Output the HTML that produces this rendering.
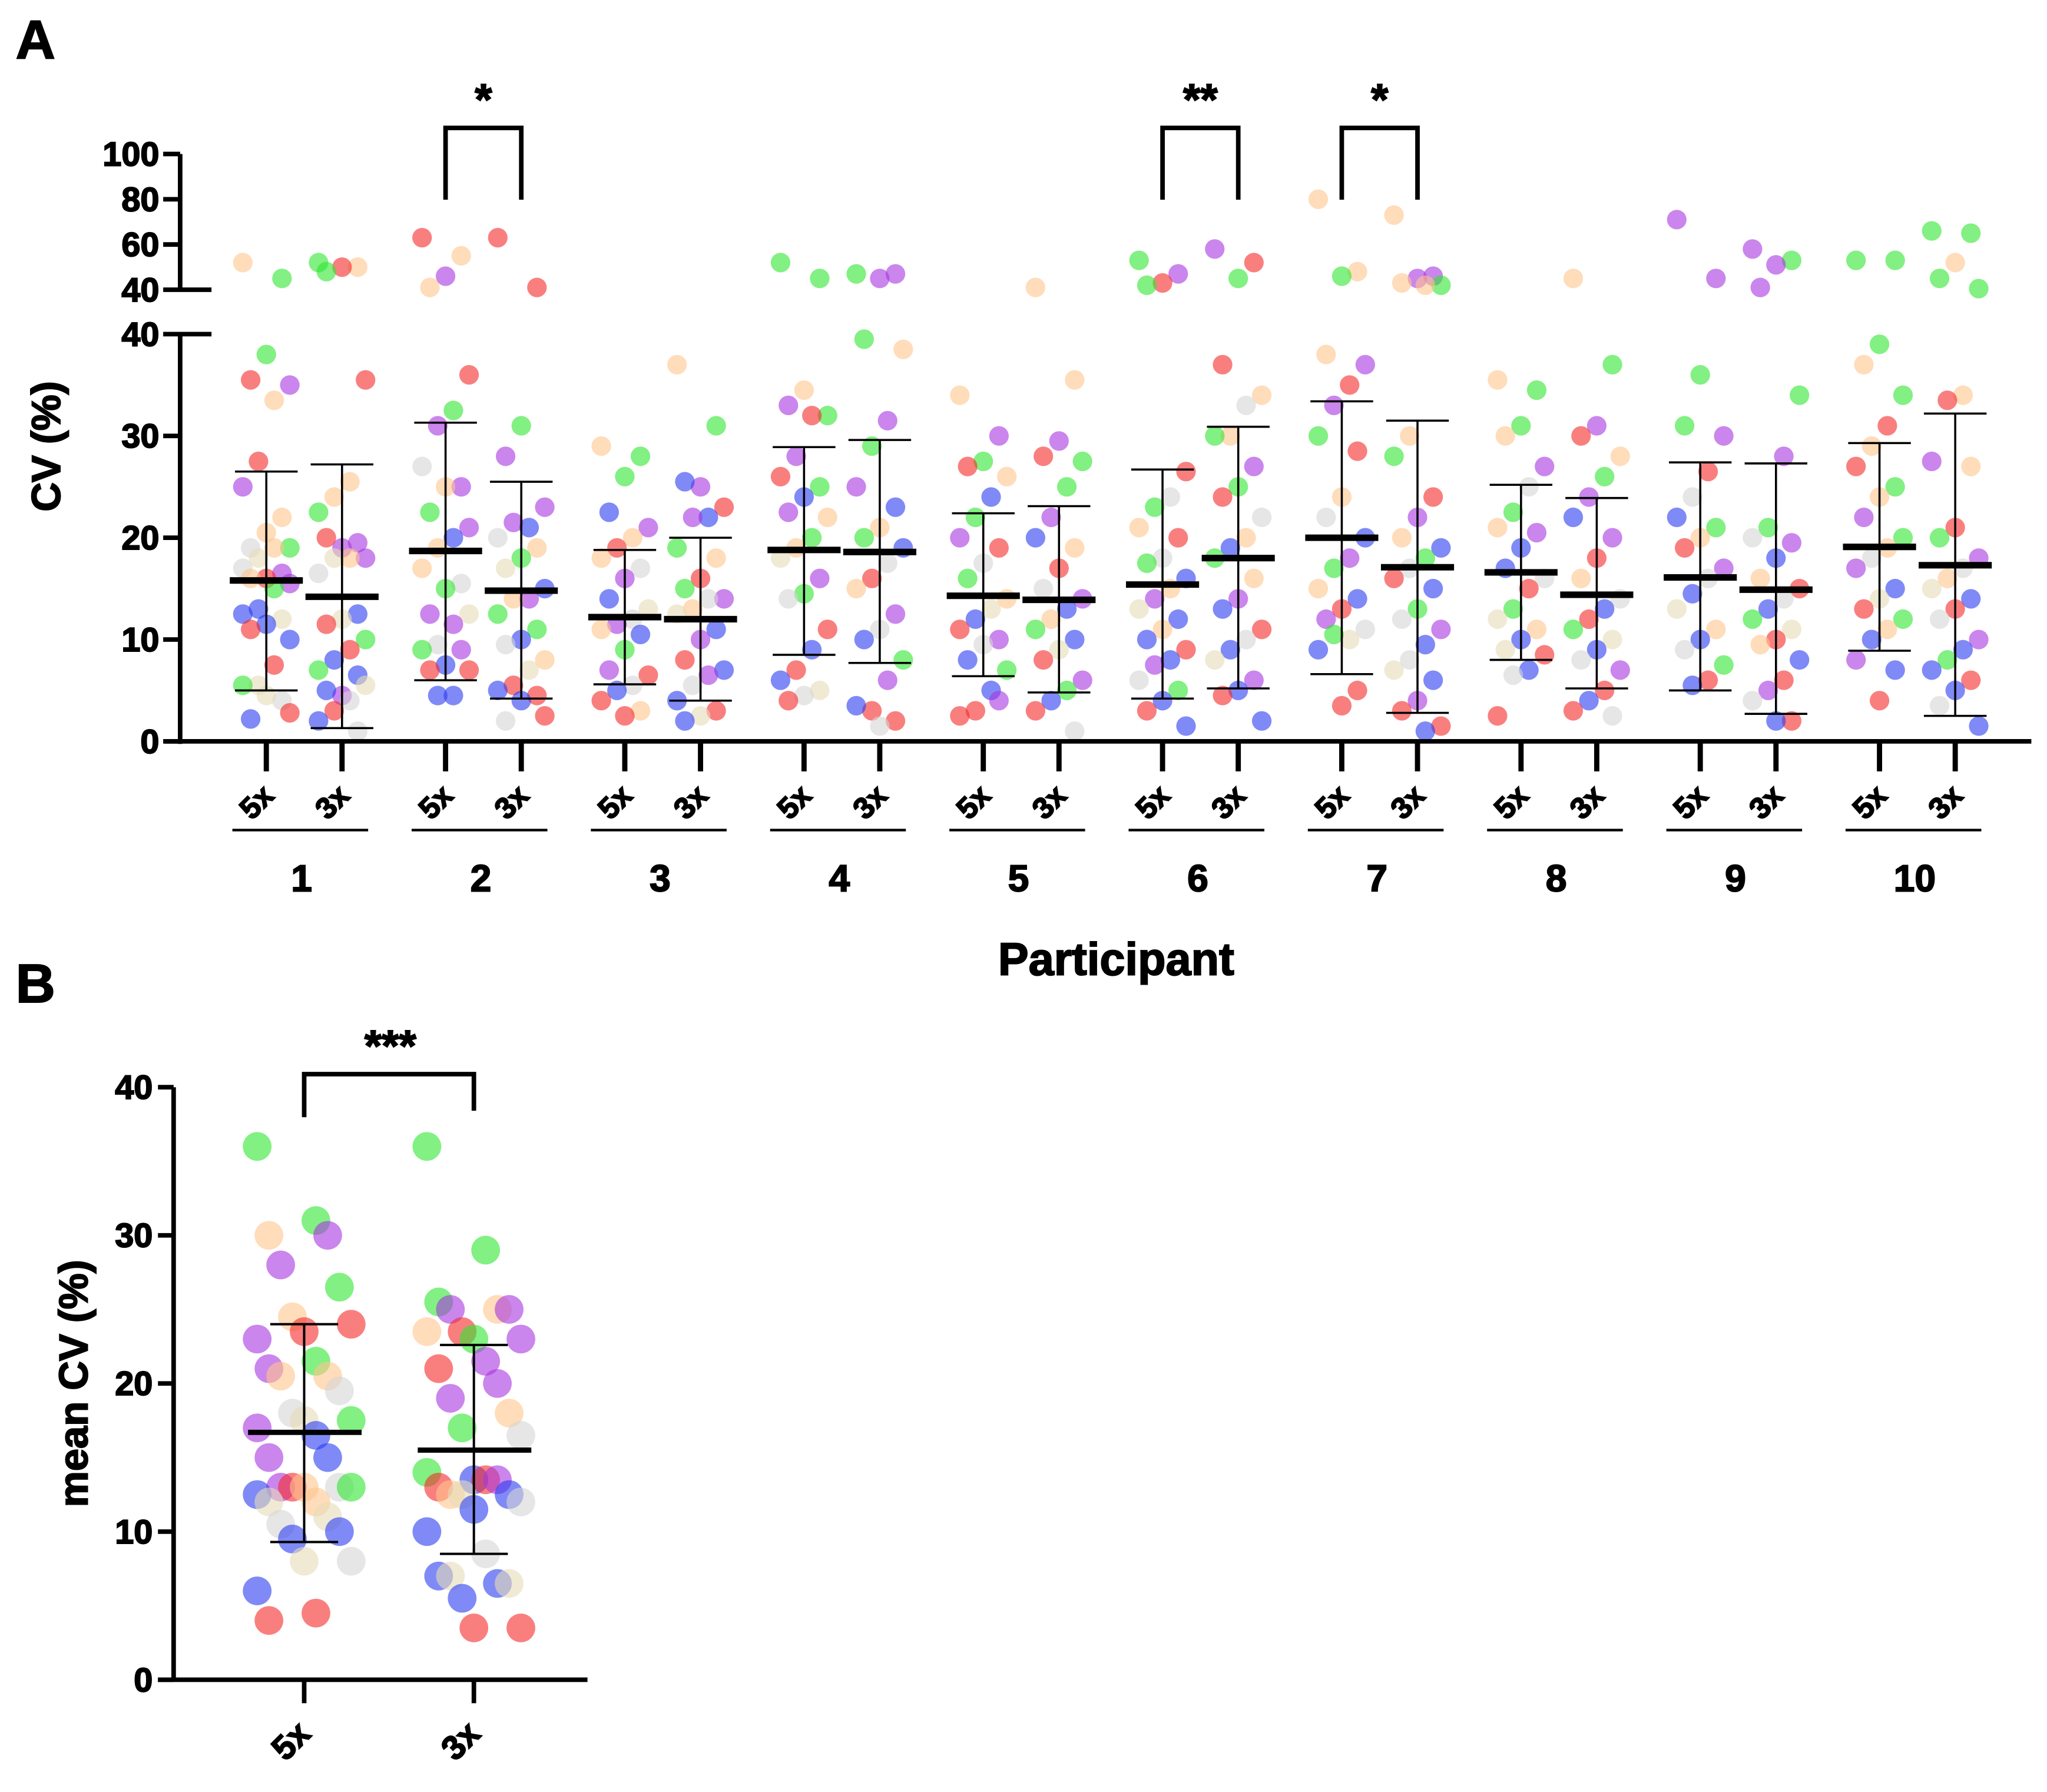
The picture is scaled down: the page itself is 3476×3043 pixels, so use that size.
<!DOCTYPE html>
<html><head><meta charset="utf-8"><style>
html,body{margin:0;padding:0;background:#fff}
svg{display:block}
text{font-family:"Liberation Sans",Arial,sans-serif;font-weight:bold;fill:#000;stroke:#000;stroke-width:0.9px}
</style></head><body>
<svg id="fig" xmlns="http://www.w3.org/2000/svg" width="3476" height="3043" viewBox="0 0 1568 1373" preserveAspectRatio="none">
<rect width="1568" height="1373" fill="#fff"/>
<text x="12" y="45" font-size="42">A</text>
<text x="12" y="768" font-size="42">B</text>
<g id="A"></g>
<g id="B"></g>
</svg>
<script>
const NS="http://www.w3.org/2000/svg";
const colorMap={g:"#2ee62e",r:"#f52a2a",p:"#a736e0",b:"#2a3cf0",o:"#ffc58c",w:"#d6d6d6",y:"#e6dcb8"};
const participants=["1","2","3","4","5","6","7","8","9","10"];
const conditions=["5x","3x"];
const meansA=[[15.8,14.2],[18.7,14.8],[12.2,12.0],[18.8,18.6],[14.3,13.9],[15.4,18.0],[20.0,17.1],[16.6,14.4],[16.1,14.9],[19.1,17.3]];
const sdLowA=[[5,1.3],[6,4.2],[5.6,4],[8.5,7.7],[6.4,4.8],[4.2,5.2],[6.6,2.8],[8,5.2],[5,2.7],[8.9,2.5]];
const sdHighA=[[26.5,27.2],[31.3,25.5],[18.8,20],[28.9,29.6],[22.4,23.1],[26.7,30.9],[33.4,31.5],[25.2,23.9],[27.4,27.3],[29.3,32.2]];
const yTicksLow=[0,10,20,30,40];
const yTicksHigh=[40,60,80,100];
const sigA=[[1,"*"],[5,"**"],[6,"*"]];
const pointsA=[
"o52 g45 g38 r35.5 p35 o33.5 r27.5 p25 o22 o20.5 w19 g19 o19 y18 w17 p16.5 r16 o16 p15.5 g15 b13 b12.5 y12 b11.5 r11 b10 r7.5 y5.5 g5.5 w4 y4.5 b2.2 r2.8",
"g52 o50 r50 g48 r35.5 o25.5 o24 g22.5 p19.5 p19 r20 p18 o18 y18 w16.5 b12.5 y12 r11.5 g10 r9 b8 g7 b6.5 p4.5 b5 y5.5 w4 r3 b2 w1",
"r63 o55 p46 o41 r36 g32.5 p31 w27 p25 o25 g22.5 p21 b20 o19 o17 w15.5 g15 p12.5 y12.5 p11.5 w9.5 g9 p9 b7.5 r7 r7 b4.5 b4.5",
"r63 r41 g31 p28 p23 b21 p21.5 w20 o19 g18 y17 b15 p14 o14 g12.5 g11 b10 w9.5 o8 y7 r5.5 b5 r4.5 b4 w2 r2.5",
"o29 g28 g26 b22.5 p21 o20 r19 o18 w17 p16 b14 y13 w12 p11.5 o11 b10.5 g9 p7 r6.5 w5.5 b5 r4 o3 r2.5",
"o37 g31 p25 b25.5 r23 b22 p22 g19 o18 r16 g15 p14 w14 o13 y12.5 b11 p10 r8 b7 p6.5 w5.5 b4 r3 y2.5 b2",
"g52 g45 o34.5 p33 g32 r32 p28 r26 g25 b24 p22.5 o22 g20 o19 y18 p16 g14.5 w14 r11 b9 r7 b6 y5 w4.5 r4",
"g47 p47 p45 g39.5 o38.5 p31.5 g29 p25 b23 o21 g20 b19 w17.5 r16 o15 p12.5 w11 b10 g8 p6 r3 b3.5 r2 w1.5",
"o34 p30 g27.5 r27 o26 b24 g22 p20 r19 w17.5 g16 o14 y13 b12 r11 p10 w9.5 b8 g7 b5 r3 r2.5 p4",
"o41 o35.5 p29.5 r28 g27.5 g25 p22 b20 o19 r17 w15 p14 b13 o12 g11 b10 y9 r8 p6 g5 b4 r3 w1",
"g53 p47 r43 g42 r26.5 w24 g23 o21 r20 w18 g17.5 b16 o15 p14 y13 b12 o11 b10 r9 b8 p7.5 w6 g5 b4 r3 b1.5",
"p58 r52 g45 r37 o34 w33 o30 g30 p27 g25 r24 w22 o20 b19 g18 o16 p14 b13 r11 w10 b9 y8 p6 b5 r4.5 b2",
"o80 o48 g46 o38 p37 r35 p33 g30 r28.5 o24 w22 b20 p18 g17 o15 b14 r13 p12 w11 y10 g10.5 b9 r5 r3.5",
"o73 p46 p45 o43 g42 o42 o30 g28 r24 p22 o20 b19 g18 w17 r16 b15 g13 w12 p11 b9.5 w8 y7 b6 p4 r3 r1.5 b1",
"o35.5 g34.5 g31 o30 p27 w25 g22.5 o21 p20.5 b19 b17 w16 r15 g13 y12 o11 b10 y9 r8.5 b7 w6.5 r2.5",
"o45 g37 p31 r30 o28 g26 p24 b22 p20 r18 o16 w14 b13 r12 g11 y10 b9 w8 p7 r5 b4 r3 w2.5",
"p71 p45 g36 g31 p30 r26.5 w24 b22 g21 o20 r19 p17 w16 b14.5 y13 o11 b10 w9 g7.5 r6 b5.5",
"p58 g53 p51 p41 g34 p28 g21 w20 p19.5 b18 o16 r15 w14 b13 g12 y11 r10 o9.5 b8 r6 p5 w4 r2 b2",
"g53 g53 g39 o37 g34 r31 o29 r27 g25 o24 p22 g20 o19 w18 p17 b15 y14 r13 g12 o11 b10 p8 b7 r4",
"g66 g65 o52 g45 g40.5 o34 r33.5 p27.5 o27 r21 g20 p18 w17 o16 y15 b14 r13 w12 p10 b9 g8 b7 r6 b5 w3.5 b1.5"
];
const meansB=[16.7,15.5];
const sdLowB=[9.3,8.5];
const sdHighB=[24.0,22.6];
const yTicksB=[0,10,20,30,40];
const pointsB=[
"g36 g31 o30 p30 p28 g26.5 o24.5 r24 r23.5 p23 g21.5 p21 o20.5 o20.5 w19.5 w18 g17.5 y17.5 p17 b16.5 p15 b15 p13 w13 r13 g13 o13 b12.5 o12 y12 y11 w10.5 b10 b9.5 w8 y8 b6 r4.5 r4",
"g36 g29 g25.5 o25 p25 p25 r23.5 p23 g23 o23.5 p21.5 r21 p20 p19 o18 g17 w16.5 b13.5 g14 r13.5 r13 p13.5 o12.5 b12.5 y12.5 w12 b11.5 b10 w8.5 b7 b6.5 y7 y6.5 b5.5 r3.5 r3.5"
];

function mk(parent,tag,attrs,txt){const e=document.createElementNS(NS,tag);for(const k in attrs)e.setAttribute(k,attrs[k]);if(txt!==undefined)e.textContent=txt;parent.appendChild(e);return e;}
function parsePts(s){return s.split(" ").map(t=>[colorMap[t[0]],parseFloat(t.slice(1))]);}

function yA(v){return v<=40?568-v*7.8:222-(v-40)*(104/60);}
function xA(pi,ci){return 204+137.3*pi+ci*58;}
const A=document.getElementById("A");
pointsA.forEach((s,k)=>{
  const pi=Math.floor(k/2),ci=k%2;const cx=xA(pi,ci);
  parsePts(s).forEach((p,i)=>{
    const off=((i*5)%7-3)*6;
    const c=mk(A,"circle",{cx:cx+off,cy:yA(p[1]),r:7.5,fill:p[0],"fill-opacity":0.6});
    
    
  });
});
for(let pi=0;pi<10;pi++)for(let ci=0;ci<2;ci++){
  const x=xA(pi,ci);
  const e=mk(A,"path",{d:`M${x},${yA(sdLowA[pi][ci])}V${yA(sdHighA[pi][ci])}M${x-24},${yA(sdLowA[pi][ci])}H${x+24}M${x-24},${yA(sdHighA[pi][ci])}H${x+24}`,stroke:"#000","stroke-width":1.6,fill:"none"});
  
  
  const m=mk(A,"line",{x1:x-28,x2:x+28,y1:yA(meansA[pi][ci]),y2:yA(meansA[pi][ci]),stroke:"#000","stroke-width":5});
  
  
}
const axA=mk(A,"path",{d:"M138,118V222M138,256V570M126,568H1556",stroke:"#000","stroke-width":3.5,fill:"none"});


yTicksLow.forEach(v=>{
  const xe=v===40?162:138;
  const t=mk(A,"line",{x1:125,x2:xe,y1:yA(v),y2:yA(v),stroke:"#000","stroke-width":3.5});
  
  
  const l=mk(A,"text",{x:122,y:yA(v)+9,"font-size":26,"text-anchor":"end"},String(v));
  
  
});
yTicksHigh.forEach(v=>{
  const xe=v===40?162:138;
  const y=v===40?222:yA(v);
  const t=mk(A,"line",{x1:125,x2:xe,y1:y,y2:y,stroke:"#000","stroke-width":3.5});
  
  
  const l=mk(A,"text",{x:122,y:y+9,"font-size":26,"text-anchor":"end"},String(v));
  
  
});
const yt=mk(A,"text",{x:0,y:0,"font-size":31,"text-anchor":"middle",transform:"translate(46,342) rotate(-90)"},"CV (%)");


for(let pi=0;pi<10;pi++){
  for(let ci=0;ci<2;ci++){
    const x=xA(pi,ci);
    const t=mk(A,"line",{x1:x,x2:x,y1:568,y2:591,stroke:"#000","stroke-width":4});
    
    
    const l=mk(A,"text",{x:0,y:0,"font-size":23,"text-anchor":"middle",transform:`translate(${x-2},620) rotate(-45)`},conditions[ci]);
    
    
  }
  const x0=xA(pi,0),x1=xA(pi,1);
  const u=mk(A,"line",{x1:x0-26,x2:x1+20,y1:636,y2:636,stroke:"#000","stroke-width":2});
  
  
  const g=mk(A,"text",{x:(x0+x1)/2-2,y:683,"font-size":29,"text-anchor":"middle"},participants[pi]);
  
  
}
const xt=mk(A,"text",{x:855,y:747,"font-size":35,"text-anchor":"middle"},"Participant");


sigA.forEach(s=>{
  const x0=xA(s[0],0),x1=xA(s[0],1);
  const b=mk(A,"path",{d:`M${x0},153V98H${x1}V153`,stroke:"#000","stroke-width":3.5,fill:"none"});
  
  
  const st=mk(A,"text",{x:(x0+x1)/2,y:88,"font-size":34,"text-anchor":"middle"},s[1]);
  
  
});

const B=document.getElementById("B");
function yB(v){return 1287-v*11.35;}
const xB=[233,363];
pointsB.forEach((s,ci)=>{
  parsePts(s).forEach((p,i)=>{
    const off=((i*5)%9-4)*9;
    const c=mk(B,"circle",{cx:xB[ci]+off,cy:yB(p[1]),r:11,fill:p[0],"fill-opacity":0.6});
    
    
  });
});
for(let ci=0;ci<2;ci++){
  const x=xB[ci];
  const e=mk(B,"path",{d:`M${x},${yB(sdLowB[ci])}V${yB(sdHighB[ci])}M${x-26},${yB(sdLowB[ci])}H${x+26}M${x-26},${yB(sdHighB[ci])}H${x+26}`,stroke:"#000","stroke-width":1.8,fill:"none"});
  
  
  const m=mk(B,"line",{x1:x-43,x2:x+44,y1:yB(meansB[ci]),y2:yB(meansB[ci]),stroke:"#000","stroke-width":4});
  
  
  const t=mk(B,"line",{x1:x,x2:x,y1:1287,y2:1305,stroke:"#000","stroke-width":3.5});
  
  
  const l=mk(B,"text",{x:0,y:0,"font-size":26,"text-anchor":"middle",transform:`translate(${x-4},1340) rotate(-45)`},conditions[ci]);
  
  
}
const axB=mk(B,"path",{d:"M133,833V1288M121,1287H450",stroke:"#000","stroke-width":3.5,fill:"none"});


yTicksB.forEach(v=>{
  const t=mk(B,"line",{x1:121,x2:133,y1:yB(v),y2:yB(v),stroke:"#000","stroke-width":3.5});
  
  
  const l=mk(B,"text",{x:117,y:yB(v)+9,"font-size":26,"text-anchor":"end"},String(v));
  
  
});
const ytB=mk(B,"text",{x:0,y:0,"font-size":31,"text-anchor":"middle",transform:"translate(67,1060) rotate(-90)"},"mean CV (%)");


const brB=mk(B,"path",{d:"M233,856V823H363V851",stroke:"#000","stroke-width":3.5,fill:"none"});


const stB=mk(B,"text",{x:299,y:813,"font-size":34,"text-anchor":"middle"},"***");


</script>
</body></html>
